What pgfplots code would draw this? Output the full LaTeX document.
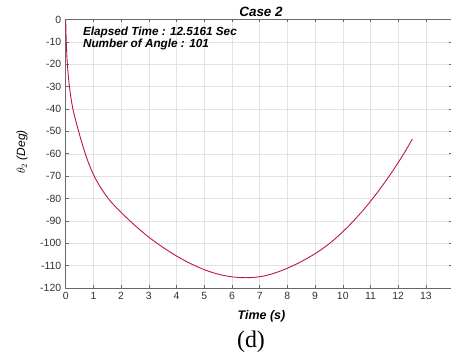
\documentclass[border=0pt]{standalone}
\usepackage{fontspec}
\setmainfont{Liberation Sans}
\newfontfamily\capfont{Liberation Serif}
\usepackage{pgfplots}
\pgfplotsset{compat=1.18}

\definecolor{curvered}{RGB}{190,25,60}
\definecolor{gridgray}{RGB}{226,226,226}
\definecolor{axisgray}{RGB}{105,105,105}
\definecolor{ticktext}{RGB}{50,50,50}

\begin{document}
\begin{tikzpicture}[x=1bp,y=1bp]
\useasboundingbox (0,0) rectangle (451,357);
\begin{axis}[
  at={(65.7bp,69bp)}, anchor=south west,
  scale only axis,
  width=386bp, height=268.5bp,
  xmin=0, xmax=13.93,
  ymin=-120, ymax=0,
  xtick={0,1,...,13},
  ytick={-120,-110,...,0},
  grid=major,
  major grid style={gridgray, line width=0.5bp},
  axis line style={axisgray, line width=0.8bp},
  tick style={axisgray, line width=0.6bp},
  tick align=inside,
  major tick length=3bp,
  /pgf/number format/assume math mode=true,
  ticklabel style={font=\fontsize{10.5}{12}\selectfont, text=ticktext},
  yticklabel style={xshift=-1bp},
  xticklabel style={yshift=-1bp},
  scaled ticks=false,
  clip=false,
]
% joint angle theta_2 over time
\addplot[curvered, line width=0.9bp, smooth, tension=0.5] coordinates {
  (0,0) (0.02,-10) (0.06,-20) (0.135,-30) (0.26,-40) (0.5,-51.5)
  (0.75,-61.6) (1.0,-69.3) (1.25,-74.9) (1.5,-79.4) (1.75,-83.1)
  (2.0,-86.2) (2.25,-89.2) (2.5,-92.05) (2.75,-94.75) (3.0,-97.3)
  (3.25,-99.6) (3.5,-101.75) (3.75,-103.8) (4.0,-105.7) (4.25,-107.45)
  (4.5,-109.05) (4.75,-110.5) (5.0,-111.8) (5.25,-112.9) (5.5,-113.8)
  (5.75,-114.5) (6.0,-115.0) (6.25,-115.3) (6.5,-115.4) (6.75,-115.3)
  (7.0,-114.95) (7.25,-114.35) (7.5,-113.5) (7.75,-112.4) (8.0,-111.15)
  (8.25,-109.75) (8.5,-108.2) (8.75,-106.5) (9.0,-104.65) (9.25,-102.6)
  (9.5,-100.3) (9.75,-97.7) (10.0,-94.85) (10.25,-91.8) (10.5,-88.5)
  (10.75,-85.0) (11.0,-81.25) (11.25,-77.25) (11.5,-73.05) (11.75,-68.6)
  (12.0,-63.9) (12.25,-59.0) (12.51,-53.4)
};
\end{axis}
% title, annotation and labels
\node[font=\fontsize{13.5}{15}\selectfont\bfseries\itshape] at (261,345) {Case 2};
\node[anchor=base west, font=\fontsize{11.8}{13}\selectfont\bfseries\itshape] at (79.5,321.5) {Elapsed Time : 12.5161 Sec};
\node[anchor=base west, font=\fontsize{11.8}{13}\selectfont\bfseries\itshape] at (79.5,310) {Number of Angle : 101};
\node[font=\fontsize{12.5}{14}\selectfont\bfseries\itshape] at (261.5,41) {Time (s)};
\node[rotate=90, font=\fontsize{12}{14}\selectfont\itshape] at (22,205) {$\theta_2$ (Deg)};
\node[font=\fontsize{24}{26}\selectfont\capfont] at (251,15.5) {(d)};
\end{tikzpicture}
\end{document}
